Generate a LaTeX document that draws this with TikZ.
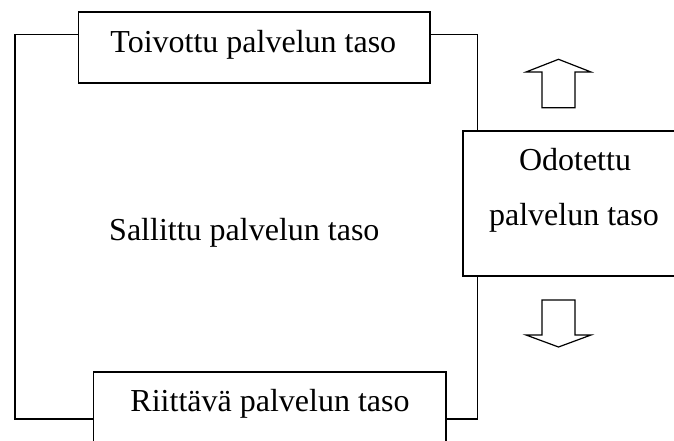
\documentclass[tikz,border=0pt]{standalone}
\usepackage{fontspec}
\setmainfont{Liberation Serif}
\begin{document}
\begin{tikzpicture}[x=1pt,y=-1pt,
  box/.style={draw=black, line width=1.6pt, inner sep=0pt, outer sep=0pt},
  lbl/.style={inner sep=0pt, anchor=base, font=\fontsize{32}{38}\selectfont},
  wire/.style={draw=black, line width=1.2pt},
  bigarrow/.style={draw=black, line width=1.2pt, line join=miter, fill=white}]
  \useasboundingbox (0,0) rectangle (674,441);
  \clip (0,0) rectangle (674,441);

  % level boxes
  \node[box, minimum width=351.7pt, minimum height=71pt] (toiv) at (254.15,47.8) {};
  \node[box, minimum width=224pt, minimum height=144.7pt] (odot) at (574.7,203.35) {};
  \node[box, minimum width=352.4pt, minimum height=100pt] (riit) at (269.8,421.7) {};

  % texts
  \node[lbl] (toivt) at (253.3,52.3) {Toivottu palvelun taso};
  \node[lbl] (odot1) at (575,170.7) {Odotettu};
  \node[lbl] (odot2) at (574,225) {palvelun taso};
  \node[lbl] (riitt) at (270,411.7) {Riittävä palvelun taso};
  \node[lbl] (sall) at (244.3,240) {Sallittu palvelun taso};

  % corner points of the surrounding frame
  \coordinate (tl) at (15,34.3);
  \coordinate (bl) at (15,419);
  \coordinate (tr) at (477.7,34.3);
  \coordinate (br) at (477.7,419);

  % frame lines joining the boxes
  \draw[wire] (toiv.west |- tl) -- (tl) -- (bl) -- (riit.west |- bl);
  \draw[wire] (toiv.east |- tr) -- (tr) -- (tr |- odot.north);
  \draw[wire] (tr |- odot.south) -- (br) -- (riit.east |- br);

  % hollow arrows beside the expected level
  \draw[bigarrow] (558.5,59.3) -- (591,72) -- (575,72) -- (575,107.7)
    -- (542,107.7) -- (542,72) -- (526,72) -- cycle;
  \draw[bigarrow] (558.5,347) -- (591,335) -- (575,335) -- (575,300)
    -- (542,300) -- (542,335) -- (526,335) -- cycle;
\end{tikzpicture}
\end{document}
